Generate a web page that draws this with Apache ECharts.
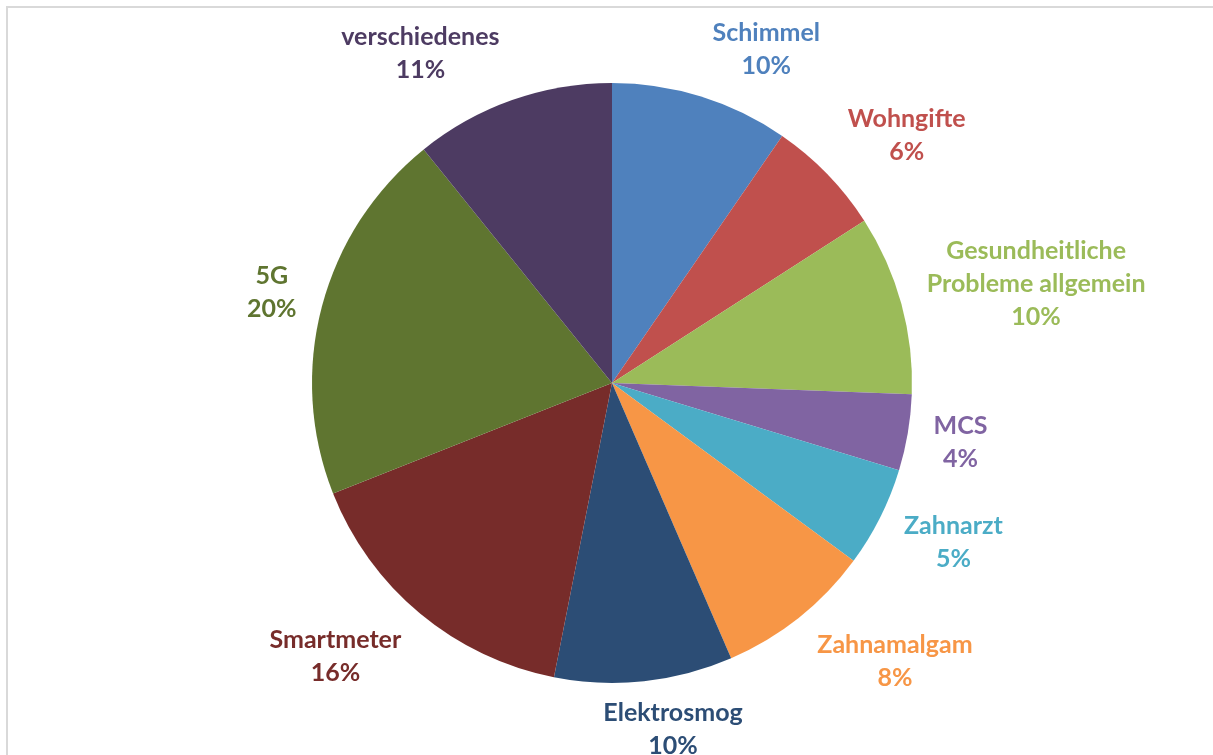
<!DOCTYPE html>
<html>
<head>
<meta charset="utf-8">
<script src="https://cdn.jsdelivr.net/npm/echarts@6/dist/echarts.min.js"></script>
<style>
html,body{margin:0;padding:0;background:#fff;}
#chart{width:1213px;height:755px;}
</style>
</head>
<body>
<div id="chart"></div>
<script>
var categories = ['Schimmel', 'Wohngifte', 'Gesundheitliche\nProbleme allgemein', 'MCS', 'Zahnarzt', 'Zahnamalgam', 'Elektrosmog', 'Smartmeter', '5G', 'verschiedenes'];
var values = [9.6, 6.3, 9.7, 4.1, 5.4, 8.4, 9.6, 15.9, 20.2, 10.8];
var colors = ['#4F81BD', '#C0504D', '#9BBB59', '#8064A2', '#4BACC6', '#F79646', '#2C4D75', '#772C2A', '#5F7530', '#4D3B62'];

var CX = 612, CY = 383, R = 300;

var data = categories.map(function (c, i) {
  return { name: c, value: values[i], itemStyle: { color: colors[i] }, label: { color: colors[i] } };
});

var chart = echarts.init(document.getElementById('chart'), null, { renderer: 'canvas' });
chart.setOption({
  backgroundColor: '#ffffff',
  animation: false,
  graphic: [{
    type: 'rect',
    shape: { x: 7, y: 7, width: 1400, height: 1000 },
    style: { fill: 'none', stroke: '#d9d9d9', lineWidth: 2 },
    silent: true
  }],
  series: [{
    type: 'pie',
    center: [CX, CY],
    radius: R,
    startAngle: 90,
    clockwise: true,
    avoidLabelOverlap: false,
    data: data,
    itemStyle: { borderWidth: 0 },
    label: {
      show: true,
      position: 'outside',
      fontFamily: 'Lato',
      fontWeight: 'bold',
      fontSize: 25,
      lineHeight: 33,
      formatter: function (p) {
        var lines = p.name.split('\n');
        lines.push(Math.round(p.percent) + '%');
        return lines.map(function (l) { return '{a|' + l + '}'; }).join('\n');
      },
      rich: {
        a: { align: 'center', fontFamily: 'Lato', fontWeight: 'bold', fontSize: 25, lineHeight: 33 }
      }
    },
    labelLine: {
      show: true,
      length: 20,
      length2: 0,
      lineStyle: { opacity: 0, width: 0 }
    },
    labelLayout: function (p) {
      var pts = p.labelLinePoints;
      if (!pts || pts.length < 2) { return {}; }
      var ax = pts[1][0], ay = pts[1][1];
      var vx = ax - CX, vy = ay - CY;
      var d = Math.sqrt(vx * vx + vy * vy) || 1;
      var dx = vx / d, dy = vy / d;
      var w = p.labelRect.width, h = p.labelRect.height;
      var t = Math.min(1, Math.abs(dx) / 0.3);
      var sx = dx >= 0 ? 1 : -1;
      var sy = dy >= 0 ? 1 : -1;
      var f = Math.min(0.85, Math.abs(dy) * 1.1);
      return {
        x: ax + sx * t * (6 + w / 2),
        y: ay + sy * f * h / 2,
        align: 'center',
        verticalAlign: 'middle'
      };
    }
  }]
});
</script>
</body>
</html>
